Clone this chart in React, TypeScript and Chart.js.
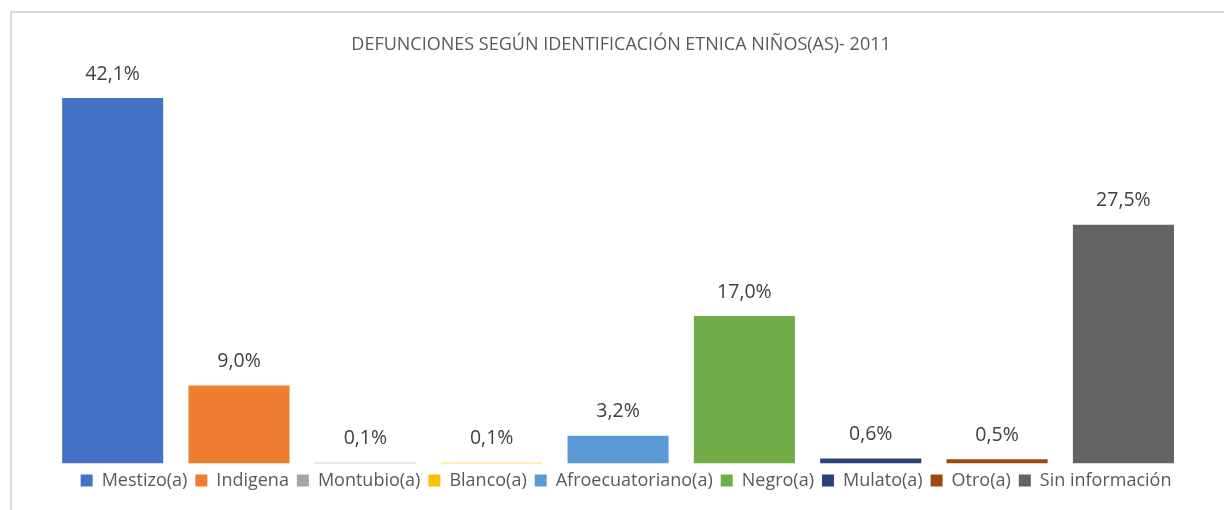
import React, { useEffect, useRef } from "react";
import { Chart, registerables } from "chart.js";

Chart.register(...registerables);

const categories = [
  "Mestizo(a)",
  "Indigena",
  "Montubio(a)",
  "Blanco(a)",
  "Afroecuatoriano(a)",
  "Negro(a)",
  "Mulato(a)",
  "Otro(a)",
  "Sin información",
];
const values = [42.1, 9.0, 0.1, 0.1, 3.2, 17.0, 0.6, 0.5, 27.5];
const colors = [
  "#4472C4",
  "#ED7D31",
  "#A5A5A5",
  "#FFC000",
  "#5B9BD5",
  "#70AD47",
  "#264478",
  "#9E480E",
  "#636363",
];
const title = "DEFUNCIONES SEGÚN IDENTIFICACIÓN ETNICA NIÑOS(AS)- 2011";

const FONT = "'Open Sans', Lato, sans-serif";

const labelPlugin = {
  id: "valueLabels",
  afterLayout(chart: any) {
    const lg = chart.legend;
    if (lg) {
      lg.left += 8;
      lg.right += 8;
    }
    const tt = chart.titleBlock;
    if (tt) {
      tt.left += 3;
      tt.right += 3;
    }
  },
  afterDatasetsDraw(chart: any) {
    const ctx = chart.ctx;
    ctx.save();
    ctx.font = `19.5px ${FONT}`;
    ctx.fillStyle = "#404040";
    ctx.textAlign = "center";
    ctx.textBaseline = "middle";
    chart.data.datasets.forEach((ds: any, i: number) => {
      const meta = chart.getDatasetMeta(i);
      meta.data.forEach((el: any, j: number) => {
        const v = ds.data[j] as number;
        const txt = v.toFixed(1).replace(".", ",") + "%";
        ctx.fillText(txt, el.x, el.y - 24);
      });
    });
    ctx.restore();
  },
};

export default function App() {
  const ref = useRef<HTMLCanvasElement>(null);
  useEffect(() => {
    if (!ref.current) return;
    const chart = new Chart(ref.current, {
      type: "bar",
      data: {
        labels: [""],
        datasets: categories.map((c, i) => ({
          label: c,
          data: [values[i]],
          backgroundColor: colors[i],
          borderWidth: 0,
        })),
      },
      options: {
        animation: false,
        responsive: false,
        maintainAspectRatio: false,
        layout: { padding: { left: 37.5, right: 37.4, top: 0, bottom: 10.4 } },
        datasets: {
          bar: { categoryPercentage: 1, barPercentage: 0.8 },
        },
        scales: {
          x: { display: false },
          y: { display: false, min: 0, max: 46 },
        },
        plugins: {
          title: {
            display: true,
            text: title,
            color: "#595959",
            font: { family: FONT, size: 18, weight: "normal" as any, lineHeight: 1.2 },
            padding: { top: 20.6, bottom: 9.0 },
          },
          legend: {
            position: "bottom",
            labels: {
              color: "#595959",
              font: { family: FONT, size: 18, lineHeight: 1.2 },
              boxWidth: 12,
              boxHeight: 12,
              padding: 8,
            },
          },
          tooltip: { enabled: false },
        },
      },
      plugins: [labelPlugin],
    });
    return () => chart.destroy();
  }, []);

  return (
    <div style={{ position: "fixed", inset: 0, overflow: "hidden", background: "#fff" }}>
      <div
        style={{
          position: "absolute",
          left: 10,
          top: 11,
          width: 1240,
          height: 530,
          border: "2px solid #d9d9d9",
          boxSizing: "border-box",
        }}
      >
        <canvas ref={ref} width={1212} height={497} style={{ display: "block" }} />
      </div>
    </div>
  );
}
